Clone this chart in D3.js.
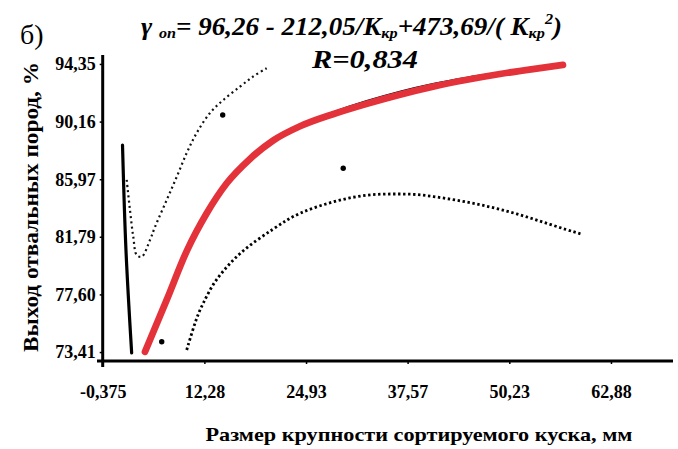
<!DOCTYPE html>
<html><head><meta charset="utf-8">
<script src="https://cdn.jsdelivr.net/npm/d3@7"></script>
<style>
body{margin:0;background:#fff;}
svg{display:block;}
text{font-family:"Liberation Serif","Times New Roman",serif;}
</style></head>
<body>
<svg id="c" width="678" height="449"></svg>
<script>
// ---- data ----
const xTickValues = [-0.375, 12.28, 24.93, 37.57, 50.23, 62.88];
const xTickLabels = ["-0,375", "12,28", "24,93", "37,57", "50,23", "62,88"];
const yTickValues = [73.41, 77.60, 81.79, 85.97, 90.16, 94.35];
const yTickLabels = ["73,41", "77,60", "81,79", "85,97", "90,16", "94,35"];

// fitted regression curve (red)
const fitX = [4.89, 7.59, 10.08, 12.57, 15.06, 17.95, 20.82, 24.18, 28.28, 32.51, 36.62, 40.73, 44.96, 49.06, 53.17, 56.90];
const fitY = [73.43, 77.20, 80.75, 83.50, 85.68, 87.45, 88.78, 89.82, 90.70, 91.46, 92.12, 92.70, 93.20, 93.62, 93.98, 94.28];
// thin black fit underneath
const blackFitY = [73.43, 77.20, 80.75, 83.50, 85.68, 87.45, 88.80, 89.87, 90.80, 91.62, 92.30, 92.86, 93.32, 93.68, 94.00, 94.28];

// steep black segment at small sizes
const steepX = [2.09, 2.52, 3.23];
const steepY = [88.46, 80.83, 73.34];

// upper confidence band (dotted)
const upperX = [2.61, 3.02, 3.43, 3.86, 4.48, 5.51, 6.13, 7.59, 8.83, 10.08, 11.32, 12.98, 14.63, 16.71, 18.33, 20.03];
const upperY = [85.92, 83.73, 81.79, 80.46, 80.34, 81.55, 82.50, 84.46, 86.13, 87.88, 89.33, 90.79, 91.73, 92.70, 93.43, 94.04];

// lower confidence band (dotted)
const lowerX = [10.08, 11.32, 12.14, 13.39, 15.06, 16.71, 18.79, 20.85, 22.52, 24.18, 26.25, 28.32, 30.40, 32.48, 34.54, 36.62, 38.70, 40.76, 42.84, 44.92, 46.99, 49.06, 51.14, 53.21, 55.29, 57.36, 59.23];
const lowerY = [73.56, 75.98, 76.97, 78.43, 79.61, 80.61, 81.55, 82.35, 83.01, 83.52, 83.97, 84.34, 84.63, 84.83, 84.90, 84.90, 84.88, 84.72, 84.53, 84.32, 84.07, 83.79, 83.46, 83.09, 82.69, 82.30, 81.98];

// observed points
const ptsX = [14.56, 6.97, 29.56];
const ptsY = [90.64, 74.16, 86.77];

// ---- drawing ----
const svg = d3.select("#c");
const x = d3.scaleLinear().domain([-0.375, 70.6]).range([102.7, 673]);
const y = d3.scaleLinear().domain([72.76, 95.0]).range([361, 55]);

const zip = (xs, ys) => xs.map((v, i) => [v, ys[i]]);
const lineCR = d3.line().x(d => x(d[0])).y(d => y(d[1])).curve(d3.curveCatmullRom.alpha(0.5));
const lineMono = d3.line().x(d => x(d[0])).y(d => y(d[1])).curve(d3.curveMonotoneX);
const lineBasis = d3.line().x(d => x(d[0])).y(d => y(d[1])).curve(d3.curveBasis);

// axes
const gx = svg.append("g").attr("transform", "translate(0,361)")
  .call(d3.axisBottom(x).tickValues(xTickValues).tickFormat((d, i) => xTickLabels[i]).tickSize(3).tickPadding(21));
gx.select(".domain").attr("d", "M97,0H673").attr("stroke", "#000").attr("stroke-width", 3);
gx.selectAll(".tick line").attr("stroke", "#000").attr("stroke-width", 1.5);
gx.selectAll(".tick text").attr("font-size", 18).attr("font-weight", "bold").attr("fill", "#000")
  .attr("font-family", "Liberation Serif, serif");

const gy = svg.append("g").attr("transform", "translate(102.7,0)")
  .call(d3.axisLeft(y).tickValues(yTickValues).tickFormat((d, i) => yTickLabels[i]).tickSize(3).tickPadding(4));
gy.select(".domain").attr("d", "M0,55V367").attr("stroke", "#000").attr("stroke-width", 3);
gy.selectAll(".tick line").attr("stroke", "#000").attr("stroke-width", 1.5);
gy.selectAll(".tick text").attr("font-size", 18).attr("font-weight", "bold").attr("fill", "#000")
  .attr("font-family", "Liberation Serif, serif");

// confidence bands
svg.append("path").datum(zip(upperX, upperY)).attr("d", lineCR)
  .attr("fill", "none").attr("stroke", "#111").attr("stroke-width", 2.2).attr("stroke-dasharray", "2,3.2");
svg.append("path").datum(zip(lowerX, lowerY)).attr("d", lineBasis)
  .attr("fill", "none").attr("stroke", "#000").attr("stroke-width", 2.8).attr("stroke-dasharray", "2.4,2.6");

// steep black line
svg.append("path").datum(zip(steepX, steepY)).attr("d", lineCR)
  .attr("fill", "none").attr("stroke", "#000").attr("stroke-width", 3.2).attr("stroke-linecap", "round");

// black fit and red fit
svg.append("path").datum(zip(fitX, blackFitY)).attr("d", lineMono)
  .attr("fill", "none").attr("stroke", "#000").attr("stroke-width", 3).attr("stroke-linecap", "round");
svg.append("path").datum(zip(fitX, fitY)).attr("d", lineMono)
  .attr("fill", "none").attr("stroke", "#e4323b").attr("stroke-width", 6.8).attr("stroke-linecap", "round");

// points
svg.append("g").selectAll("circle").data(zip(ptsX, ptsY)).join("circle")
  .attr("cx", d => x(d[0])).attr("cy", d => y(d[1])).attr("r", 2.7).attr("fill", "#000");

// titles
svg.append("text").attr("x", 20).attr("y", 44).attr("font-size", 28).attr("fill", "#000").text("б)");

const t = svg.append("text").attr("x", 141).attr("y", 35).attr("font-size", 25)
  .attr("font-weight", "bold").attr("font-style", "italic").attr("fill", "#000")
  .attr("textLength", 421).attr("lengthAdjust", "spacingAndGlyphs");
t.append("tspan").text("γ ");
t.append("tspan").attr("font-size", 15).attr("dy", 3).text("оп");
t.append("tspan").attr("dy", -3).text("= 96,26 - 212,05/K");
t.append("tspan").attr("font-size", 15).attr("dy", 3).text("кр");
t.append("tspan").attr("dy", -3).text("+473,69/( K");
t.append("tspan").attr("font-size", 15).attr("dy", 3).text("кр");
t.append("tspan").attr("font-size", 15).attr("dy", -14).text("2");
t.append("tspan").attr("dy", 11).text(")");

svg.append("text").attr("x", 365).attr("y", 68).attr("text-anchor", "middle").attr("font-size", 26)
  .attr("font-weight", "bold").attr("font-style", "italic").attr("fill", "#000")
  .attr("textLength", 106).attr("lengthAdjust", "spacingAndGlyphs").text("R=0,834");

// axis titles
svg.append("text").attr("transform", "translate(38,207) rotate(-90)").attr("text-anchor", "middle")
  .attr("font-size", 21).attr("font-weight", "bold").attr("fill", "#000")
  .attr("textLength", 290).attr("lengthAdjust", "spacingAndGlyphs")
  .text("Выход отвальных пород, %");
svg.append("text").attr("x", 419).attr("y", 441).attr("text-anchor", "middle")
  .attr("font-size", 19).attr("font-weight", "bold").attr("fill", "#000")
  .attr("textLength", 427).attr("lengthAdjust", "spacingAndGlyphs")
  .text("Размер крупности сортируемого куска, мм");
</script>
</body></html>
